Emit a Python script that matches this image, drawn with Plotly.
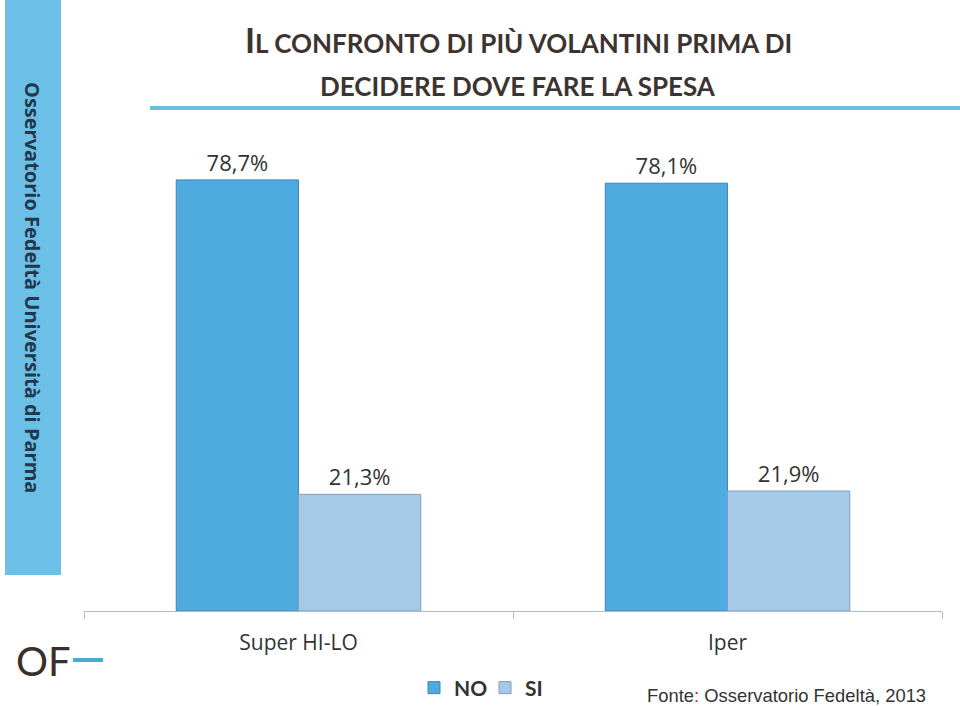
import plotly.graph_objects as go

categories = ["Super HI-LO", "Iper"]
no_values = [78.7, 78.1]
si_values = [21.3, 21.9]
series_names = ["NO", "SI"]

W, H = 960, 706
L, R, T, B = 84, 18, 118, 95
PW = W - L - R
PH = H - T - B
YMAX = 90.0


def px_x(px):
    return (px - L) / PW


def px_y(py):
    return (H - B - py) / PH


fig = go.Figure()
fig.add_trace(go.Bar(
    name=series_names[0], x=categories, y=no_values,
    marker=dict(color="#4FAAE0", line=dict(color="#3F86B5", width=1)),
    texttemplate="%{y:.1f}%", textposition="outside",
    textfont=dict(family="Open Sans", size=22, color="#333333"),
    cliponaxis=False,
))
fig.add_trace(go.Bar(
    name=series_names[1], x=categories, y=si_values,
    marker=dict(color="#A5CAE8", line=dict(color="#7E9FBD", width=1)),
    texttemplate="%{y:.1f}%", textposition="outside",
    textfont=dict(family="Open Sans", size=22, color="#333333"),
    cliponaxis=False,
))

shapes = [
    dict(type="rect", xref="paper", yref="paper",
         x0=px_x(5), x1=px_x(61), y0=px_y(575), y1=px_y(0),
         fillcolor="#6CBFE6", line=dict(width=0), layer="below"),
    dict(type="line", xref="paper", yref="paper",
         x0=px_x(150), x1=px_x(960), y0=px_y(108), y1=px_y(108),
         line=dict(color="#6BBDE1", width=4)),
    dict(type="line", xref="paper", yref="paper",
         x0=px_x(73), x1=px_x(103), y0=px_y(660), y1=px_y(660),
         line=dict(color="#4BAAD0", width=4)),
]

annotations = [
    dict(text="<b>Osservatorio Fedeltà Università di Parma</b>", textangle=90,
         xref="paper", yref="paper", x=px_x(33), y=px_y(287),
         showarrow=False, font=dict(family="Open Sans", size=20, color="#22384A"),
         xanchor="center", yanchor="middle"),
    dict(text="<b><span style='font-size:34px'>I</span>L CONFRONTO DI PIÙ VOLANTINI PRIMA DI</b>",
         xref="paper", yref="paper", x=px_x(518), y=px_y(40),
         showarrow=False, font=dict(family="Lato", size=26, color="#3D3431"),
         xanchor="center", yanchor="middle"),
    dict(text="<b>DECIDERE DOVE FARE LA SPESA</b>",
         xref="paper", yref="paper", x=px_x(518), y=px_y(86),
         showarrow=False, font=dict(family="Lato", size=26, color="#3D3431"),
         xanchor="center", yanchor="middle"),
    dict(text="OF", xref="paper", yref="paper", x=px_x(14), y=px_y(661),
         showarrow=False, font=dict(family="Lato", size=40, color="#3B2F2A"),
         xanchor="left", yanchor="middle"),
    dict(text="Fonte<span style='color:#D02020'>:</span> Osservatorio Fedeltà, 2013",
         xref="paper", yref="paper", x=px_x(786), y=px_y(695),
         showarrow=False, font=dict(family="Liberation Sans", size=18.4, color="#333333"),
         xanchor="center", yanchor="middle"),
]

fig.update_layout(
    width=W, height=H,
    margin=dict(l=L, r=R, t=T, b=B, autoexpand=False),
    paper_bgcolor="white", plot_bgcolor="white",
    separators=",.",
    barmode="group", bargap=0.43, bargroupgap=0,
    showlegend=True,
    legend=dict(orientation="h", x=px_x(414), y=px_y(688), xanchor="left", yanchor="middle",
                font=dict(family="Lato", size=21, color="#333333", weight="bold"),
                itemwidth=30, entrywidth=26, traceorder="normal"),
    shapes=shapes, annotations=annotations,
)
fig.update_xaxes(showline=True, linecolor="#A9BED0", linewidth=1,
                 ticks="outside", tickson="boundaries", ticklen=7, tickcolor="#A9BED0",
                 tickfont=dict(family="Open Sans", size=21, color="#333333"),
                 ticklabelstandoff=13, showgrid=False, fixedrange=True)
fig.update_yaxes(visible=False, range=[0, YMAX], showgrid=False, fixedrange=True)

fig.write_html("out.html")
